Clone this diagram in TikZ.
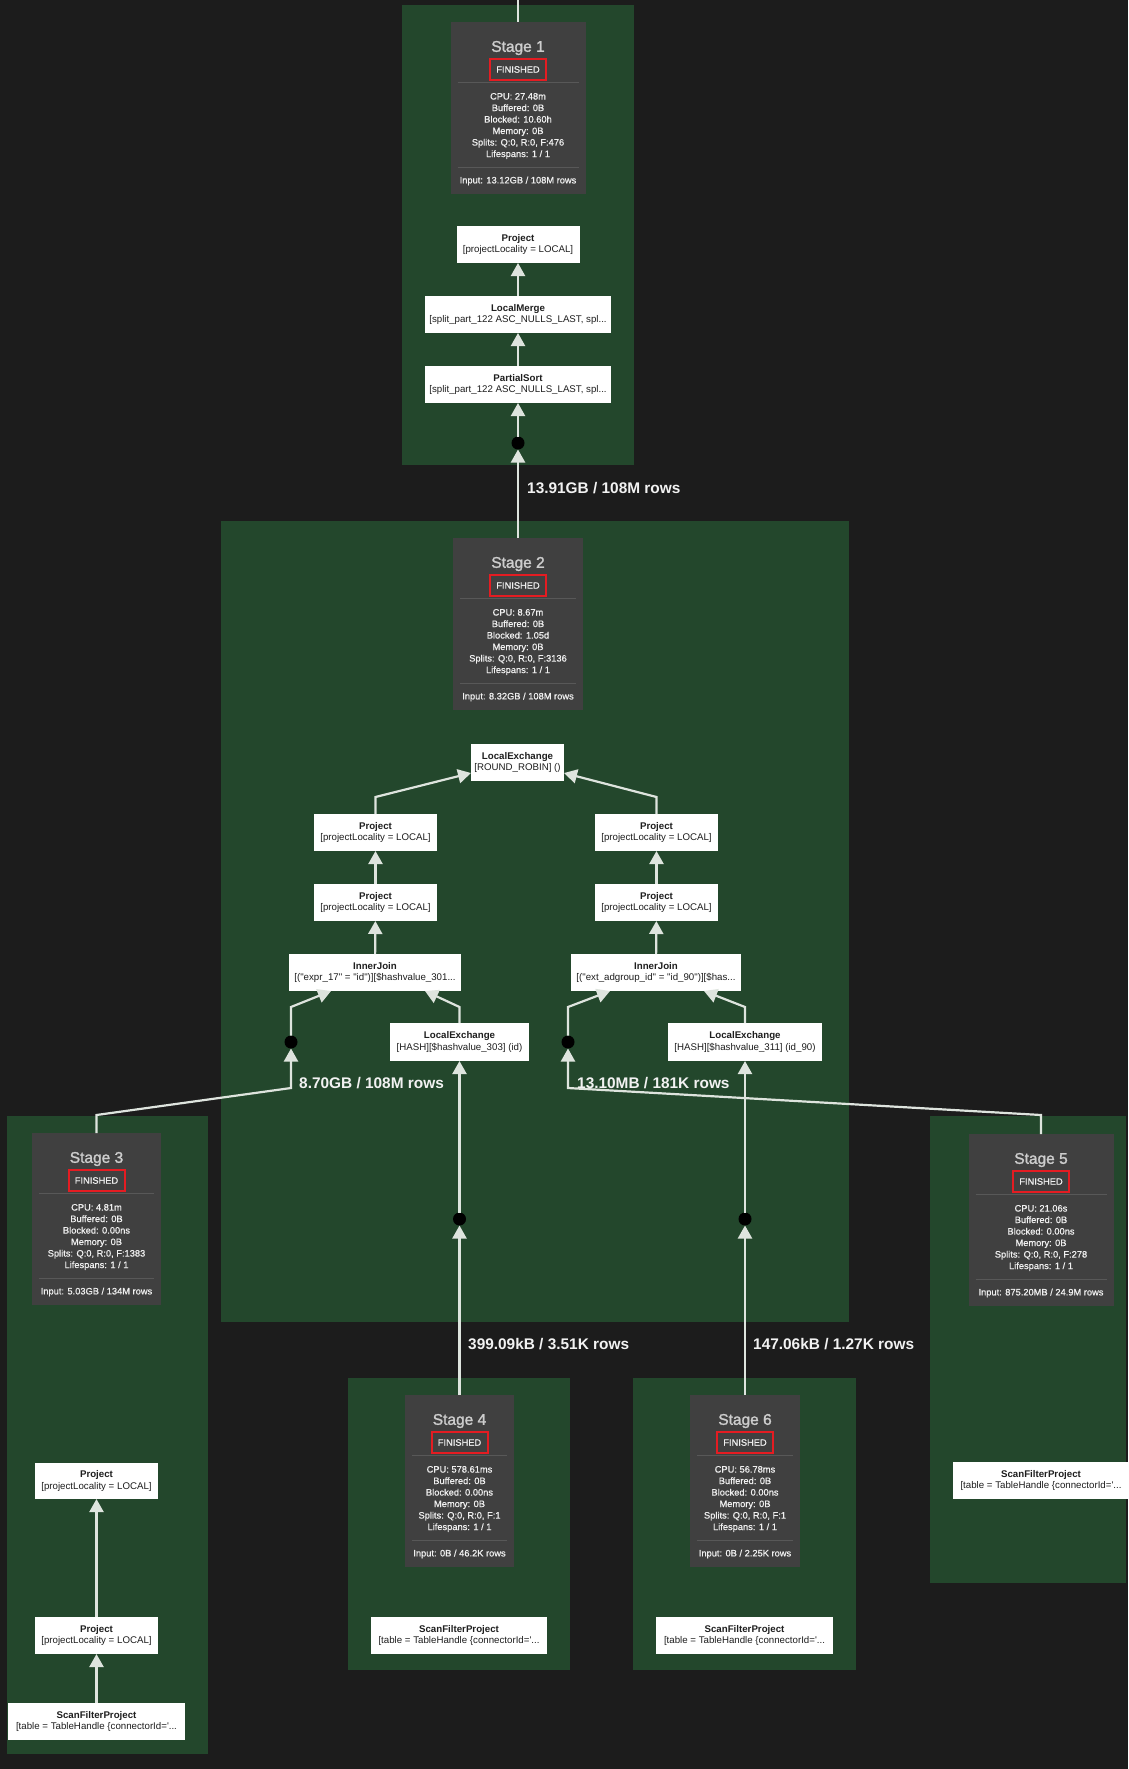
\documentclass[tikz,border=0pt]{standalone}
\usepackage{fontspec}
\setmainfont{Liberation Sans}[Ligatures=TeXOff]
\newfontfamily\titlesans{Liberation Sans}[Ligatures=TeXOff, FakeBold=1.6]
\newfontfamily\medsans{Liberation Sans}[Ligatures=TeXOff, FakeBold=0.7]
\usetikzlibrary{arrows.meta}

\definecolor{bgdark}{RGB}{28,28,28}
\definecolor{clustergreen}{RGB}{35,71,44}
\definecolor{stagegrey}{RGB}{64,64,64}
\definecolor{titlegrey}{RGB}{205,205,205}
\definecolor{statwhite}{RGB}{240,240,240}
\definecolor{sepgrey}{RGB}{88,88,88}
\definecolor{finred}{RGB}{228,28,34}
\definecolor{opdark}{RGB}{30,30,30}
\definecolor{edgegrey}{RGB}{222,228,222}
\definecolor{labelwhite}{RGB}{242,242,242}

\tikzset{
  stagebox/.style={fill=stagegrey, draw=none, inner sep=0pt, outer sep=0pt},
  stagetitle/.style={text=titlegrey, font=\titlesans\fontsize{15.5}{18}\selectfont, inner sep=0pt},
  finished/.style={draw=finred, line width=2pt, text=statwhite, font=\medsans\fontsize{9.3}{11}\selectfont, minimum width=56pt, minimum height=21pt, inner sep=0pt, outer sep=0pt},
  stats/.style={text=statwhite, font=\medsans\fontsize{9.3}{11.5}\selectfont, align=center, inner sep=0pt},
  opnode/.style={fill=white, draw=none, minimum height=37pt, inner sep=0pt, outer sep=0pt, align=center, text=opdark, font=\fontsize{9.7}{11.7}\selectfont},
  flow/.style={draw=edgegrey, line width=2.2pt, -{Triangle[width=14pt,length=13pt]}},
  edgeline/.style={draw=edgegrey, line width=2.2pt},
  junction/.style={circle, fill=black, minimum size=13pt, inner sep=0pt, outer sep=0pt},
  edgelabel/.style={text=labelwhite, font=\bfseries\fontsize{15.4}{18}\selectfont, anchor=west, inner sep=0pt},
  sepline/.style={draw=sepgrey, line width=0.8pt},
}

\newcommand{\Op}[2]{\textbf{#1}\\{#2}}
% #1 name, #2 cx, #3 top, #4 width, #5 number, #6 cpu, #7 blocked, #8 splits, #9 input
\newcommand{\StageCard}[9]{%
  \node[stagebox, minimum width=#4pt, minimum height=172pt] (#1) at (#2,#3+86) {};
  \node[stagetitle] (#1-title) at (#2,#3+26) {Stage #5};
  \node[finished] (#1-state) at (#2,#3+47.5) {FINISHED};
  \draw[sepline] (#2-#4/2+7,#3+60) -- (#2+#4/2-7,#3+60);
  \node[stats] (#1-stats) at (#2,#3+104) {CPU: #6\\Buffered: 0B\\Blocked: #7\\Memory: 0B\\Splits: #8\\Lifespans: 1 / 1};
  \draw[sepline] (#2-#4/2+7,#3+145) -- (#2+#4/2-7,#3+145);
  \node[stats] (#1-input) at (#2,#3+159) {Input: #9};
}

\begin{document}
\begin{tikzpicture}[x=1pt,y=-1pt]
\fill[bgdark] (0,0) rectangle (1128,1769);
\useasboundingbox (0,0) rectangle (1128,1769);

% clusters
\fill[clustergreen] (402,5) rectangle (634,465);
\fill[clustergreen] (221,521) rectangle (849,1322);
\fill[clustergreen] (7,1116) rectangle (208,1754);
\fill[clustergreen] (348,1378) rectangle (570,1670);
\fill[clustergreen] (930,1116) rectangle (1126,1583);
\fill[clustergreen] (633,1378) rectangle (856,1670);

% stage cards
\StageCard{s1}{518}{22}{135}{1}{27.48m}{10.60h}{Q:0, R:0, F:476}{13.12GB / 108M rows}
\StageCard{s2}{518}{538}{130}{2}{8.67m}{1.05d}{Q:0, R:0, F:3136}{8.32GB / 108M rows}
\StageCard{s3}{96.5}{1133}{129}{3}{4.81m}{0.00ns}{Q:0, R:0, F:1383}{5.03GB / 134M rows}
\StageCard{s4}{459.5}{1395}{109}{4}{578.61ms}{0.00ns}{Q:0, R:0, F:1}{0B / 46.2K rows}
\StageCard{s5}{1041}{1134}{145}{5}{21.06s}{0.00ns}{Q:0, R:0, F:278}{875.20MB / 24.9M rows}
\StageCard{s6}{745}{1395}{110}{6}{56.78ms}{0.00ns}{Q:0, R:0, F:1}{0B / 2.25K rows}

% operator nodes - stage 1
\node[opnode, minimum width=123pt] (p1) at (518,244.5) {\Op{Project}{[projectLocality = LOCAL]}};
\node[opnode, minimum width=186pt] (lm) at (518,314.5) {\Op{LocalMerge}{[split\_part\_122 ASC\_NULLS\_LAST, spl...}};
\node[opnode, minimum width=186pt] (ps) at (518,384.5) {\Op{PartialSort}{[split\_part\_122 ASC\_NULLS\_LAST, spl...}};

% stage 2
\node[opnode, minimum width=93pt] (lx) at (517.5,762.5) {\Op{LocalExchange}{[ROUND\_ROBIN] ()}};
\node[opnode, minimum width=123pt] (pL1) at (375.5,832.5) {\Op{Project}{[projectLocality = LOCAL]}};
\node[opnode, minimum width=123pt] (pR1) at (656.5,832.5) {\Op{Project}{[projectLocality = LOCAL]}};
\node[opnode, minimum width=123pt] (pL2) at (375.5,902.5) {\Op{Project}{[projectLocality = LOCAL]}};
\node[opnode, minimum width=123pt] (pR2) at (656.5,902.5) {\Op{Project}{[projectLocality = LOCAL]}};
\node[opnode, minimum width=172pt] (ijL) at (375,972.5) {\Op{InnerJoin}{[("expr\_17" = "id")][\$hashvalue\_301...}};
\node[opnode, minimum width=170pt] (ijR) at (656,972.5) {\Op{InnerJoin}{[("ext\_adgroup\_id" = "id\_90")][\$has...}};
\node[opnode, minimum width=139pt, minimum height=38pt] (lxL) at (459.5,1042) {\Op{LocalExchange}{[HASH][\$hashvalue\_303] (id)}};
\node[opnode, minimum width=154pt, minimum height=38pt] (lxR) at (745,1042) {\Op{LocalExchange}{[HASH][\$hashvalue\_311] (id\_90)}};

% stage 3
\node[opnode, minimum width=123pt, minimum height=36pt] (p3a) at (96.5,1481) {\Op{Project}{[projectLocality = LOCAL]}};
\node[opnode, minimum width=123pt] (p3b) at (96.5,1635.5) {\Op{Project}{[projectLocality = LOCAL]}};
\node[opnode, minimum width=177pt] (sf3) at (96.5,1721.5) {\Op{ScanFilterProject}{[table = TableHandle \{connectorId=\textquotesingle...}};

% stages 4, 5, 6
\node[opnode, minimum width=176pt] (sf4) at (459,1635.5) {\Op{ScanFilterProject}{[table = TableHandle \{connectorId=\textquotesingle...}};
\node[opnode, minimum width=177pt] (sf6) at (744.5,1635.5) {\Op{ScanFilterProject}{[table = TableHandle \{connectorId=\textquotesingle...}};
\node[opnode, minimum width=176pt] (sf5) at (1041,1480.5) {\Op{ScanFilterProject}{[table = TableHandle \{connectorId=\textquotesingle...}};

% junction dots
\node[junction] (d1) at (518,443) {};
\node[junction] (dL) at (291,1042) {};
\node[junction] (dR) at (568,1042) {};
\node[junction] (d4) at (459.5,1219) {};
\node[junction] (d6) at (745,1219) {};

% bend coordinates
\coordinate (topin) at (518,0);
\coordinate (bLx1) at (375.5,797);
\coordinate (bRx1) at (656.5,797);
\coordinate (bJL1) at (291,1007);
\coordinate (bJL2) at (459.5,1007);
\coordinate (bJR1) at (568,1007);
\coordinate (bJR2) at (745,1007);
\coordinate (b31) at (96.5,1115);
\coordinate (b32) at (291,1088);
\coordinate (b51) at (1041,1115);
\coordinate (b52) at (568,1088);

% connectors
\draw[edgeline] (s1.north) -- (topin);
\draw[flow] (lm) -- (p1);
\draw[flow] (ps) -- (lm);
\draw[flow] (d1) -- (ps);
\draw[flow] (s2) -- (d1);

\draw[flow] (pL1.north) -- (bLx1) -- ([yshift=-10.5pt]lx.west);
\draw[flow] (pR1.north) -- (bRx1) -- ([yshift=-10.5pt]lx.east);
\draw[flow] (pL2) -- (pL1);
\draw[flow] (pR2) -- (pR1);
\draw[flow] (ijL) -- (pL2);
\draw[flow] (ijR) -- (pR2);
\draw[flow] (dL) -- (bJL1) -- ([xshift=-44pt]ijL.south);
\draw[flow] (lxL.north) -- (bJL2) -- ([xshift=50pt]ijL.south);
\draw[flow] (dR) -- (bJR1) -- ([xshift=-46pt]ijR.south);
\draw[flow] (lxR.north) -- (bJR2) -- ([xshift=48pt]ijR.south);

\draw[flow] (s3.north) -- (b31) -- (b32) -- (dL);
\draw[flow] (s5.north) -- (b51) -- (b52) -- (dR);
\draw[flow] (s4) -- (d4);
\draw[flow] (d4) -- (lxL);
\draw[flow] (s6) -- (d6);
\draw[flow] (d6) -- (lxR);

\draw[flow] (sf3) -- (p3b);
\draw[flow] (p3b) -- (p3a);

% edge labels
\node[edgelabel] (l1) at (527,488) {13.91GB / 108M rows};
\node[edgelabel] (l2) at (299,1083) {8.70GB / 108M rows};
\node[edgelabel] (l3) at (577,1083) {13.10MB / 181K rows};
\node[edgelabel] (l4) at (468,1344) {399.09kB / 3.51K rows};
\node[edgelabel] (l5) at (753,1344) {147.06kB / 1.27K rows};
\end{tikzpicture}
\end{document}
